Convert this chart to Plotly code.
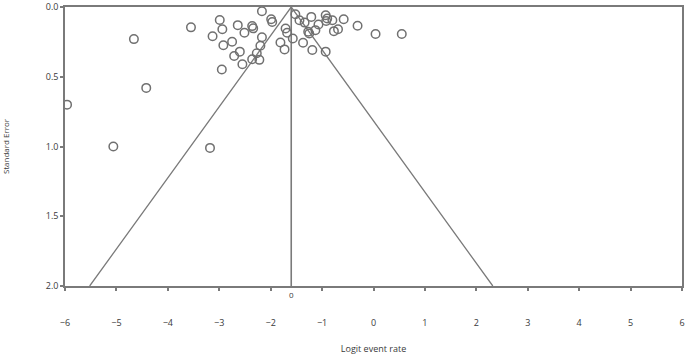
import plotly.graph_objects as go

# Study estimates (logit event rate) and standard errors
logit_rate = [-5.96, -5.06, -4.42, -4.66, -3.18, -3.55, -2.99, -2.94, -3.13, -2.64,
              -2.36, -2.34, -2.51, -2.92, -2.75, -2.71, -2.60, -2.55, -2.95, -2.36,
              -2.17, -1.99, -1.97, -2.17, -2.20, -2.27, -2.22, -1.71, -1.68, -1.57,
              -1.81, -1.73, -1.52, -1.44, -1.34, -1.21, -1.27, -1.25, -1.13, -1.07,
              -0.93, -0.90, -0.92, -1.37, -1.19, -0.93, -0.80, -0.58, -0.77, -0.69,
              -0.31, 0.04, 0.55]
std_error = [0.70, 1.00, 0.58, 0.23, 1.01, 0.146, 0.093, 0.16, 0.21, 0.13,
             0.137, 0.153, 0.185, 0.274, 0.249, 0.351, 0.32, 0.41, 0.448, 0.374,
             0.031, 0.0875, 0.107, 0.217, 0.278, 0.332, 0.379, 0.154, 0.185, 0.226,
             0.254, 0.304, 0.052, 0.095, 0.112, 0.071, 0.178, 0.19, 0.166, 0.126,
             0.059, 0.083, 0.10, 0.256, 0.308, 0.32, 0.095, 0.0875, 0.173, 0.159,
             0.135, 0.194, 0.194]

pooled_mean = -1.6
z_crit = 1.96
se_max = 2.0
x_ticks = [-6, -5, -4, -3, -2, -1, 0, 1, 2, 3, 4, 5, 6]
y_ticks = [0.0, 0.5, 1.0, 1.5, 2.0]
y_tick_text = ["0.0", "0.5", "1.0", "1.5", "2.0"]

line_col = "#7a7a7a"
text_col = "#3a3a3a"
font_fam = "Open Sans, Liberation Sans, sans-serif"

fig = go.Figure()

# funnel
fig.add_trace(go.Scatter(
    x=[pooled_mean - z_crit * se_max, pooled_mean, pooled_mean + z_crit * se_max],
    y=[se_max, 0, se_max], mode="lines",
    line=dict(color=line_col, width=1.3), hoverinfo="skip", showlegend=False))
# pooled estimate line
fig.add_trace(go.Scatter(
    x=[pooled_mean, pooled_mean], y=[0, se_max], mode="lines",
    line=dict(color=line_col, width=1.6), hoverinfo="skip", showlegend=False))
# studies
fig.add_trace(go.Scatter(
    x=logit_rate, y=std_error, mode="markers",
    marker=dict(symbol="circle-open", size=8.5, color="#707070", line=dict(width=1.5)),
    showlegend=False))

fig.update_layout(
    width=685, height=360,
    margin=dict(l=65, r=3, t=7, b=74),
    paper_bgcolor="white", plot_bgcolor="white",
    font=dict(family=font_fam, size=9, color=text_col),
    xaxis=dict(range=[-6, 6], tickvals=x_ticks, showgrid=False, zeroline=False,
               showline=True, linecolor=line_col, linewidth=1.5, mirror=True,
               ticks="outside", ticklen=3, tickcolor=line_col, tickwidth=1.5,
               ticklabelstandoff=24, ticklabeloverflow="allow", automargin=False,
               tickfont=dict(size=9, color=text_col, family=font_fam),
               title=dict(text="Logit event rate", font=dict(size=9, color=text_col), standoff=18)),
    yaxis=dict(range=[2, 0], tickvals=y_ticks, ticktext=y_tick_text, showgrid=False,
               zeroline=False, showline=True, linecolor=line_col, linewidth=1.5, mirror=True,
               ticks="outside", ticklen=3, tickcolor=line_col, tickwidth=1.5,
               ticklabeloverflow="allow", automargin=False,
               tickfont=dict(size=9, color=text_col, family=font_fam),
               title=dict(text="Standard Error", font=dict(size=8, color=text_col), standoff=40)),
)

fig.add_annotation(x=pooled_mean, y=0, xref="x", yref="paper", text="0",
                   showarrow=False, yanchor="top", yshift=-1,
                   font=dict(size=8, color=text_col, family=font_fam))

fig.write_html("out.html", config={"displayModeBar": False},
               post_script="document.body.style.margin='0';document.body.style.overflow='hidden';")
